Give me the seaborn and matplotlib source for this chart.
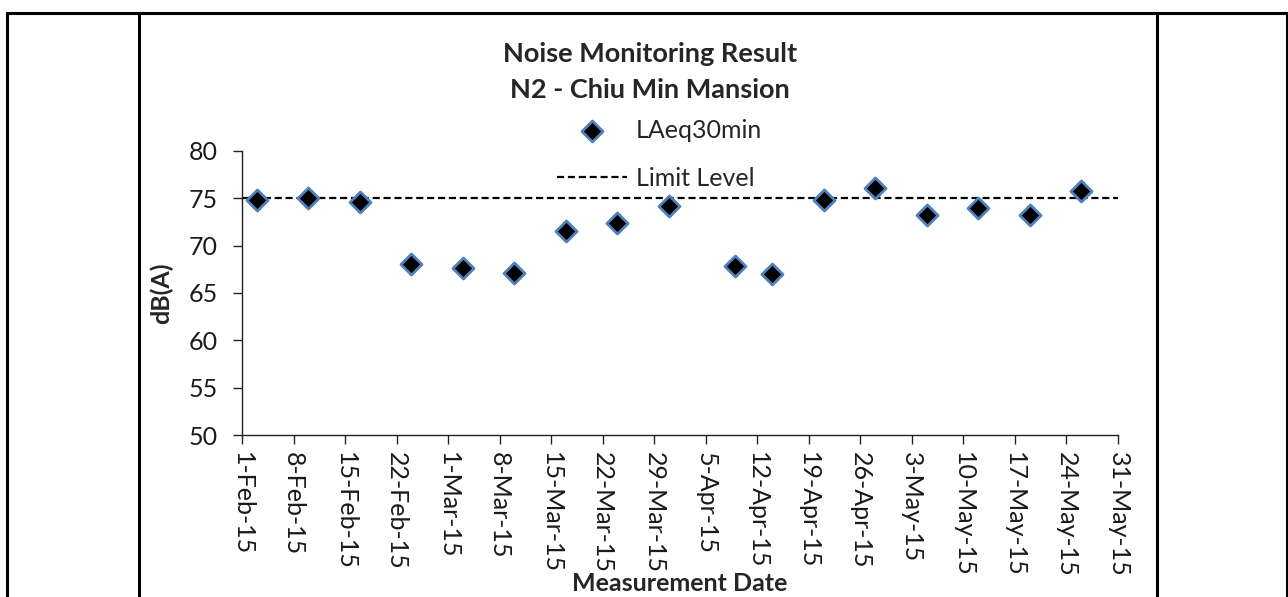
import pandas as pd
import matplotlib
matplotlib.use("Agg")
import matplotlib.pyplot as plt
import matplotlib.dates as mdates
from matplotlib.lines import Line2D
import seaborn as sns

# chart data
dates = ["2015-02-03", "2015-02-10", "2015-02-17", "2015-02-24", "2015-03-03",
         "2015-03-10", "2015-03-17", "2015-03-24", "2015-03-31", "2015-04-09",
         "2015-04-14", "2015-04-21", "2015-04-28", "2015-05-05", "2015-05-12",
         "2015-05-19", "2015-05-26"]
laeq = [74.8, 75.0, 74.6, 68.1, 67.6, 67.1, 71.6, 72.4, 74.2, 67.8,
        67.0, 74.8, 76.1, 73.2, 74.0, 73.2, 75.8]
limit_level = 75
x_start = "2015-02-01"
x_end = "2015-05-31"
y_ticks = [50, 55, 60, 65, 70, 75, 80]

df = pd.DataFrame({"date": pd.to_datetime(dates), "LAeq30min": laeq})

sns.set_style("white")
plt.rcParams["font.family"] = ["Lato", "DejaVu Sans"]

fig = plt.figure(figsize=(12.88, 5.97), dpi=100)
ax = fig.add_axes([242 / 1288, 1 - 435 / 597, 876 / 1288, 284 / 597])

# limit line
ax.axhline(limit_level, color="black", lw=1.6, linestyle=(0, (3.2, 1.7)),
           label="Limit Level", zorder=1)

# measured points
sns.scatterplot(data=df, x="date", y="LAeq30min", marker="D", s=115,
                color="black", edgecolor="#4F81BD", linewidth=2.0,
                label="LAeq30min", ax=ax, zorder=3)

ax.set_xlim(pd.Timestamp(x_start), pd.Timestamp(x_end))
ax.set_ylim(50, 80)
ax.set_yticks(y_ticks)
ax.set_xticks(pd.date_range(x_start, x_end, freq="7D"))
ax.xaxis.set_major_formatter(mdates.DateFormatter("%-d-%b-%y"))

for s in ["top", "right"]:
    ax.spines[s].set_visible(False)
for s in ["left", "bottom"]:
    ax.spines[s].set_color("#222222")
    ax.spines[s].set_linewidth(1.0)

ax.tick_params(axis="both", direction="out", length=6.5, width=1.0,
               color="#222222", labelsize=18, labelcolor="#1a1a1a",
               bottom=True, left=True)
ax.tick_params(axis="y", pad=11)
ax.tick_params(axis="x", pad=6, labelrotation=-90)

ax.set_xlabel("Measurement Date", fontsize=18, fontweight="bold")
ax.set_ylabel("dB(A)", fontsize=18, fontweight="bold")
ax.xaxis.set_label_coords(0.5, -0.482)
ax.yaxis.set_label_coords(-0.0788, 0.5)

# legend (order: points first, then line)
handles, labels = ax.get_legend_handles_labels()
order = [labels.index("LAeq30min"), labels.index("Limit Level")]
ax.legend([handles[i] for i in order], [labels[i] for i in order],
          loc="center", bbox_to_anchor=(0.512, 0.742),
          bbox_transform=fig.transFigure, frameon=False, fontsize=18,
          labelspacing=1.0, handlelength=2.8, handletextpad=0.35)

fig.text(650 / 1288, 1 - 72 / 597, "Noise Monitoring Result\nN2 - Chiu Min Mansion",
         ha="center", va="center", fontsize=19.5, fontweight="bold",
         linespacing=1.56)

# surrounding table frame
frame_kw = dict(color="black", lw=2.2, transform=fig.transFigure)
top_y = 1 - 13 / 597
fig.add_artist(Line2D([7 / 1288, 1287 / 1288], [top_y, top_y], **frame_kw))
for px in [7, 139, 1157, 1287]:
    fig.add_artist(Line2D([px / 1288, px / 1288], [0, top_y], **frame_kw))

fig.savefig("out.png", dpi=100)
